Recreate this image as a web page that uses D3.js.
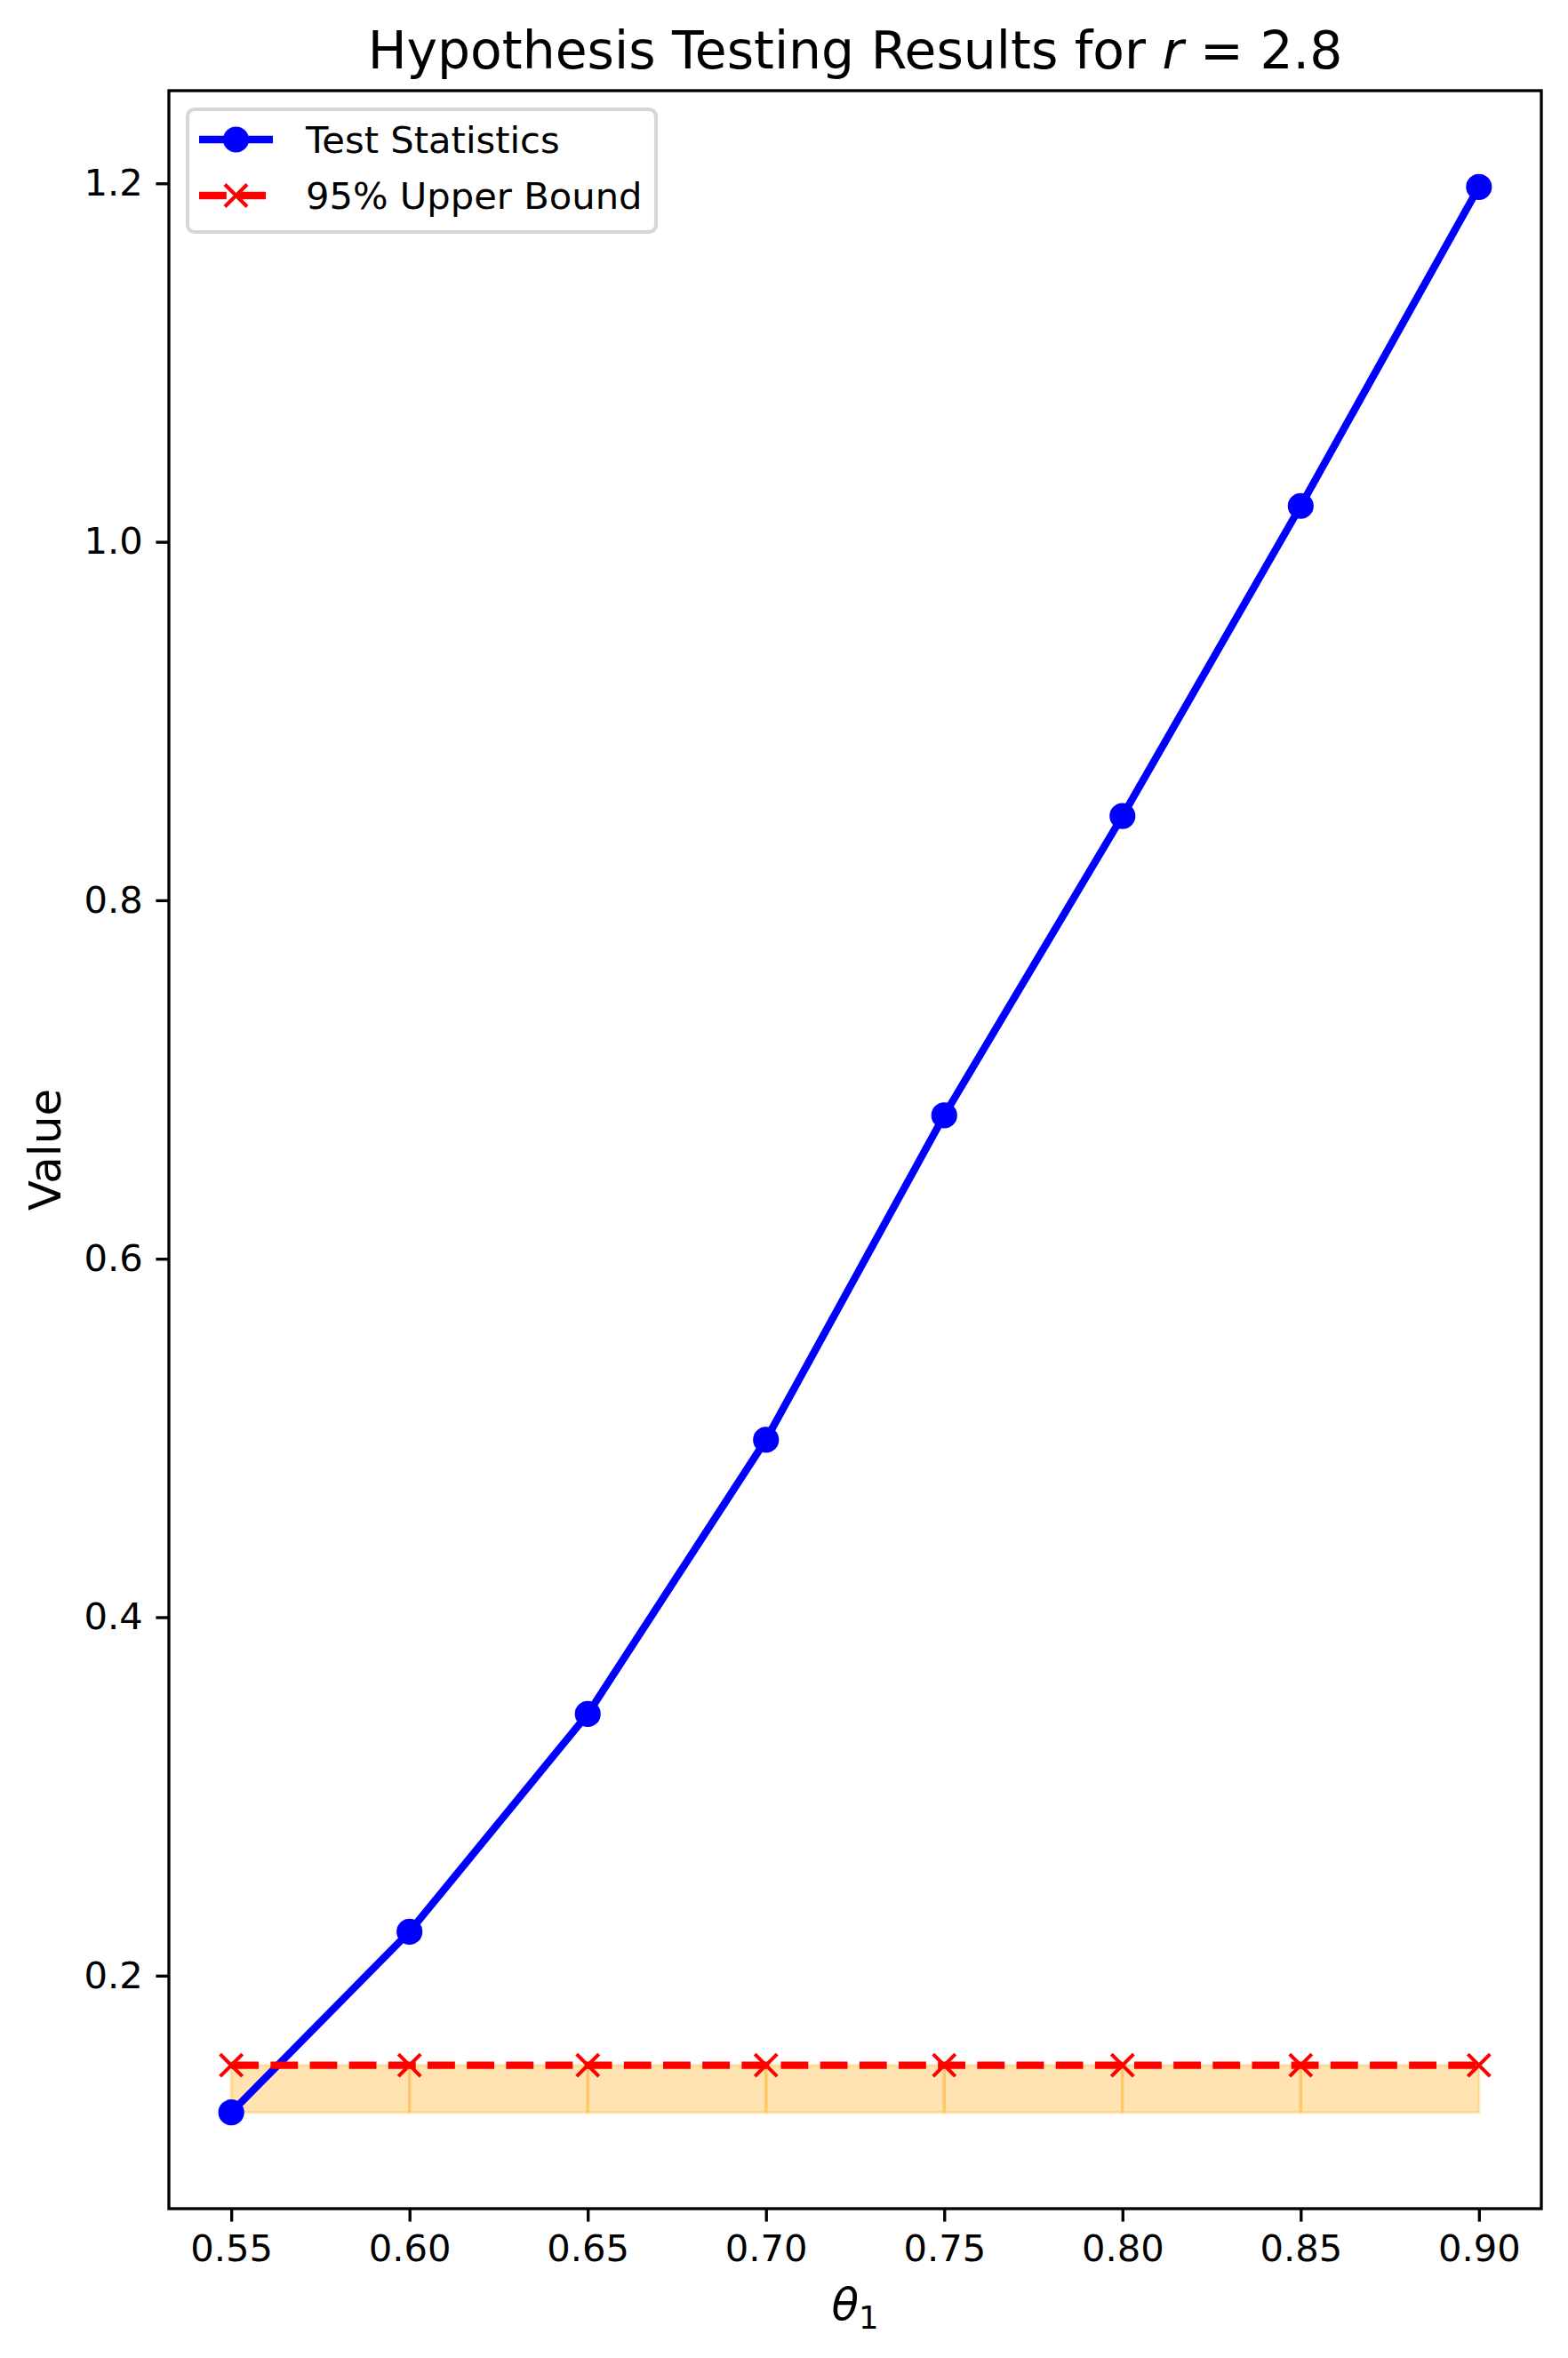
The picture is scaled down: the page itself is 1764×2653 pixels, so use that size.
<!DOCTYPE html>
<html>
<head>
<meta charset="utf-8">
<script src="https://d3js.org/d3.v7.min.js"></script>
<style>
  html, body { margin: 0; padding: 0; background: #fff; }
  svg { display: block; }
  text { font-family: "DejaVu Sans", sans-serif; fill: #000; }
</style>
</head>
<body>
<script>
// ---- data ----
const theta1 = [0.55, 0.60, 0.65, 0.70, 0.75, 0.80, 0.85, 0.90];
const testStatistics = [0.1237, 0.2245, 0.346, 0.499, 0.680, 0.847, 1.020, 1.198];
const upperBound = [0.150, 0.150, 0.150, 0.150, 0.150, 0.150, 0.150, 0.150];
const xTicks = [0.55, 0.60, 0.65, 0.70, 0.75, 0.80, 0.85, 0.90];
const yTicks = [0.2, 0.4, 0.6, 0.8, 1.0, 1.2];
const seriesNames = ["Test Statistics", "95% Upper Bound"];

(function () {
// ---- layout ----
const W = 1764, H = 2653;
const axL = 190, axR = 1734, axT = 102, axB = 2485;
const pt = 300 / 72;

const svg = d3.select("body").append("svg").attr("width", W).attr("height", H);

const xmin = d3.min(theta1), xmax = d3.max(theta1);
const xpad = (xmax - xmin) * 0.05;
const allY = testStatistics.concat(upperBound);
const ymin = d3.min(allY), ymax = d3.max(allY);
const ypad = (ymax - ymin) * 0.05;

const x = d3.scaleLinear().domain([xmin - xpad, xmax + xpad]).range([axL, axR]);
const y = d3.scaleLinear().domain([ymin - ypad, ymax + ypad]).range([axB, axT]);

// ---- fill between min test statistic and upper bound ----
const fillLow = d3.min(testStatistics);
const fillG = svg.append("g");
for (let i = 0; i < theta1.length - 1; i++) {
  const pts = [
    [x(theta1[i]), y(fillLow)], [x(theta1[i + 1]), y(fillLow)],
    [x(theta1[i + 1]), y(upperBound[i + 1])], [x(theta1[i]), y(upperBound[i])]
  ];
  fillG.append("polygon")
    .attr("points", pts.map(p => p.join(",")).join(" "))
    .attr("fill", "orange").attr("fill-opacity", 0.3)
    .attr("stroke", "orange").attr("stroke-opacity", 0.25)
    .attr("stroke-width", 0.8 * pt);
}

// ---- test statistics line ----
const line = d3.line().x((d, i) => x(theta1[i])).y(d => y(d));
svg.append("path").datum(testStatistics)
  .attr("d", line).attr("fill", "none")
  .attr("stroke", "blue").attr("stroke-width", 2 * pt)
  .attr("stroke-linejoin", "round").attr("stroke-linecap", "square");
svg.append("g").selectAll("circle").data(testStatistics).join("circle")
  .attr("cx", (d, i) => x(theta1[i])).attr("cy", d => y(d))
  .attr("r", 3 * pt).attr("fill", "blue")
  .attr("stroke", "blue").attr("stroke-width", 1 * pt);

// ---- upper bound dashed line ----
svg.append("path").datum(upperBound)
  .attr("d", line).attr("fill", "none")
  .attr("stroke", "red").attr("stroke-width", 2 * pt)
  .attr("stroke-dasharray", `${3.7 * 2 * pt},${1.6 * 2 * pt}`);
const xs = 3 * pt;
const xg = svg.append("g");
upperBound.forEach((d, i) => {
  const cx = x(theta1[i]), cy = y(d);
  xg.append("path")
    .attr("d", `M${cx - xs},${cy - xs}L${cx + xs},${cy + xs}M${cx - xs},${cy + xs}L${cx + xs},${cy - xs}`)
    .attr("stroke", "red").attr("stroke-width", 1 * pt).attr("fill", "none");
});

// ---- axes ----
const tickLen = 3.5 * pt;
const xAxis = svg.append("g").attr("transform", `translate(0,${axB})`)
  .call(d3.axisBottom(x).tickValues(xTicks).tickFormat(d3.format(".2f"))
    .tickSize(tickLen).tickSizeOuter(0).tickPadding(3.5 * pt));
const yAxis = svg.append("g").attr("transform", `translate(${axL},0)`)
  .call(d3.axisLeft(y).tickValues(yTicks).tickFormat(d3.format(".1f"))
    .tickSize(tickLen).tickSizeOuter(0).tickPadding(3.5 * pt));
[xAxis, yAxis].forEach(a => {
  a.select(".domain").remove();
  a.selectAll(".tick line").attr("stroke", "#000").attr("stroke-width", 0.8 * pt);
  a.selectAll(".tick text").attr("font-size", 10 * pt)
    .attr("font-family", "DejaVu Sans").attr("fill", "#000");
});

// spines
svg.append("rect").attr("x", axL).attr("y", axT)
  .attr("width", axR - axL).attr("height", axB - axT)
  .attr("fill", "none").attr("stroke", "#000").attr("stroke-width", 0.8 * pt);

// ---- title ----
const title = svg.append("text").attr("x", (axL + axR) / 2).attr("y", 77)
  .attr("text-anchor", "middle").attr("font-size", 14 * pt);
title.append("tspan").text("Hypothesis Testing Results for ");
title.append("tspan").attr("font-style", "italic").text("r");
title.append("tspan").text(" = 2.8");

// ---- axis labels ----
const xl = svg.append("text").attr("x", (axL + axR) / 2).attr("y", 2610)
  .attr("text-anchor", "middle").attr("font-size", 12 * pt);
xl.append("tspan").attr("font-style", "italic").text("\u03b8");
xl.append("tspan").attr("font-size", 8.5 * pt).attr("dy", 10).text("1");

svg.append("text")
  .attr("transform", `translate(68,${(axT + axB) / 2}) rotate(-90)`)
  .attr("text-anchor", "middle").attr("font-size", 12 * pt).text("Value");

// ---- legend ----
const lg = svg.append("g");
lg.append("rect").attr("x", 211).attr("y", 123).attr("width", 527).attr("height", 138)
  .attr("rx", 8).attr("fill", "#fff").attr("fill-opacity", 0.8)
  .attr("stroke", "#d6d6d6").attr("stroke-width", 1 * pt);
const rows = [157, 220];
const hx0 = 224, hx1 = 307, hc = (hx0 + hx1) / 2;
// row 1
lg.append("line").attr("x1", hx0).attr("x2", hx1).attr("y1", rows[0]).attr("y2", rows[0])
  .attr("stroke", "blue").attr("stroke-width", 2 * pt);
lg.append("circle").attr("cx", hc).attr("cy", rows[0]).attr("r", 3 * pt)
  .attr("fill", "blue").attr("stroke", "blue").attr("stroke-width", 1 * pt);
// row 2
lg.append("line").attr("x1", hx0).attr("x2", hx1).attr("y1", rows[1]).attr("y2", rows[1])
  .attr("stroke", "red").attr("stroke-width", 2 * pt)
  .attr("stroke-dasharray", `${3.7 * 2 * pt},${1.6 * 2 * pt}`);
lg.append("path")
  .attr("d", `M${hc - xs},${rows[1] - xs}L${hc + xs},${rows[1] + xs}M${hc - xs},${rows[1] + xs}L${hc + xs},${rows[1] - xs}`)
  .attr("stroke", "red").attr("stroke-width", 1 * pt);
seriesNames.forEach((s, i) => {
  lg.append("text").attr("x", 344).attr("y", rows[i]).attr("dy", "0.36em")
    .attr("font-size", 10 * pt).text(s);
});
})();
</script>
</body>
</html>
